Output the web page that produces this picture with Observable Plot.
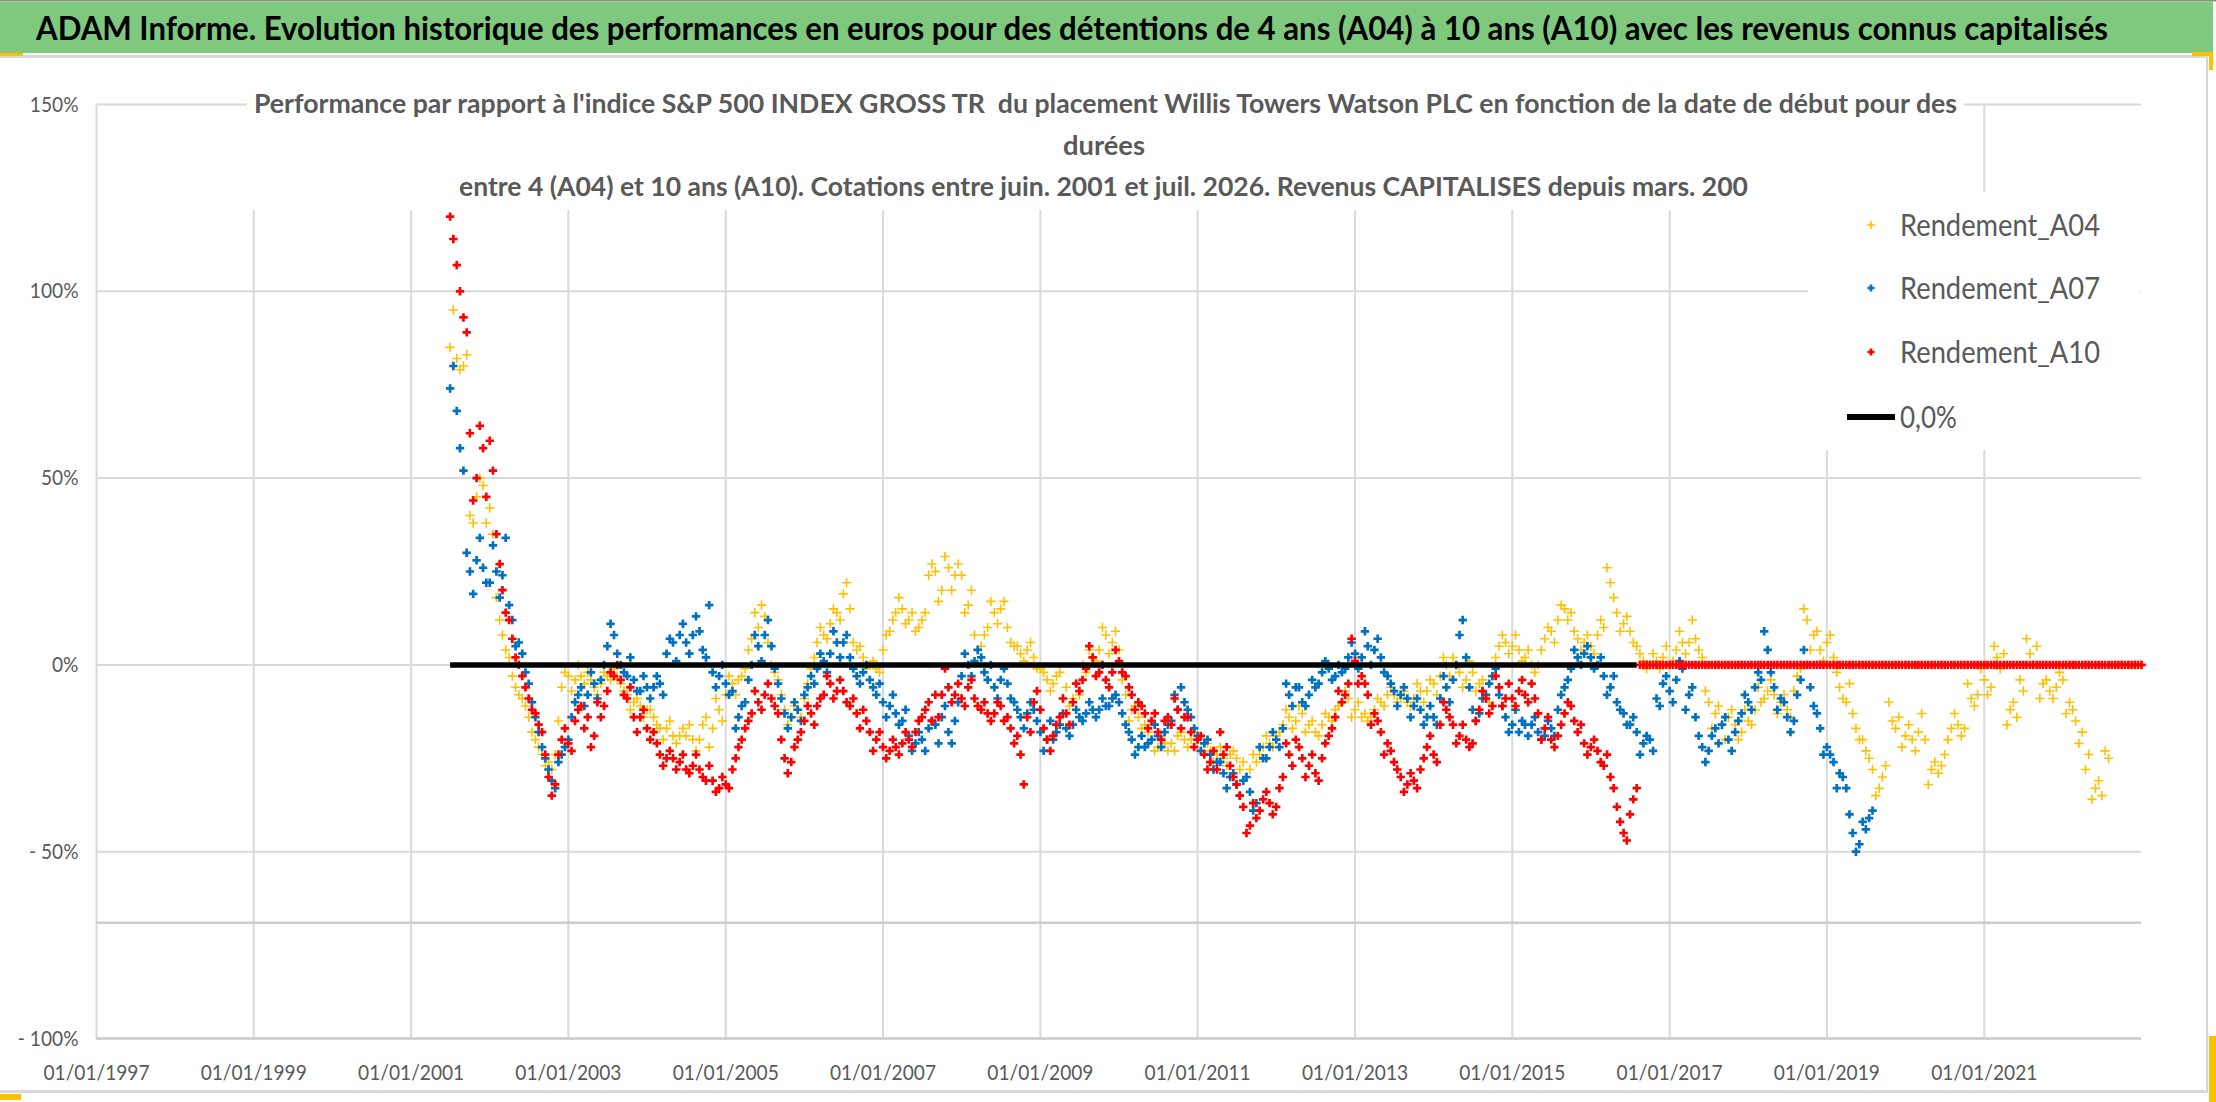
<!DOCTYPE html>
<html><head><meta charset="utf-8">
<script src="https://cdn.jsdelivr.net/npm/d3@7"></script>
<script src="https://cdn.jsdelivr.net/npm/@observablehq/plot@0.6"></script>
<style>
html,body{margin:0;padding:0;background:#fff;}
#wrap{position:relative;width:2216px;height:1102px;overflow:hidden;background:#fff;}
#wrap svg{position:absolute;left:0;top:0;}
</style></head><body><div id="wrap"></div>
<script>
// ---------- DATA ----------
const titleText = "ADAM Informe. Evolution historique des performances en euros pour des détentions de 4 ans (A04) à 10 ans (A10) avec les revenus connus capitalisés";
const subtitleLines = [
  "Performance par rapport à l'indice S&P 500 INDEX GROSS TR  du placement Willis Towers Watson PLC en fonction de la date de début pour des",
  "durées",
  "entre 4 (A04) et 10 ans (A10). Cotations entre juin. 2001 et juil. 2026. Revenus CAPITALISES depuis mars. 200"
];
const seriesNames = ["Rendement_A04", "Rendement_A07", "Rendement_A10"];
const zeroName = "0,0%";
const seriesColors = ["#FFC000", "#0070C0", "#FF0000"];

// readings (in %) on the 1st of each month, first value = 1 July 2001
const firstMonth = [2001, 6];
const a04 = [85,82,80,40,45,48,42,18,8,2,-6,-9,-14,-20,-24,-26,-24,-6,-3,-4,-3,-2,-6,-5,-3,-1,-5,-8,-10,-11,-12,-14,-17,-17,-19,-19,-19,-20,
  -20,-14,-17,-12,-8,-5,-4,-1,7,10,13,0,-4,-12,-14,-12,-9,-1,6,8,11,14,19,15,4,2,0,-1,4,9,14,15,12,9,12,24,25,
  20,26,24,24,16,8,5,10,14,15,10,5,3,4,2,-1,-4,-5,-2,-6,-9,-8,-2,2,4,8,6,4,-8,-12,-14,-16,-20,-22,-21,-21,
  -19,-20,-20,-20,-21,-23,-24,-25,-24,-25,-26,-28,-26,-22,-21,-19,-16,-14,-15,-13,-16,-18,-16,-14,-12,-10,-9,-12,-14,-15,-12,-10,-8,-8,-9,-10,-9,-7,
  -7,-5,-3,0,2,-2,-4,-2,-5,-8,-3,5,6,5,4,2,0,0,7,9,12,15,14,7,6,5,8,10,22,14,11,9,5,1,0,1,
  2,0,4,6,6,7,2,-10,-13,-16,-14,-16,-18,-15,-12,-10,-7,-8,-10,-12,-7,-1,12,8,4,6,2,-6,-10,-13,-20,-23,-28,-33,
  -27,-15,-14,
  -19,-20,-18,-20,-28,-29,-24,-17,-16,-17,-9,-8,-4,-6,2,3,-12,-14,-7,3,5,-5,-7,-6,-4,-10,-15,-18,-24,-33,-35,-25,
  0,0,0,0,0];
const a07 = [74,68,52,25,28,26,22,25,24,16,5,3,-5,-14,-22,-28,-33,-24,-20,-10,-6,-8,-5,-4,5,8,0,-3,-4,-7,-6,-6,-5,3,6,8,6,
  8,9,2,-2,-3,-5,-7,-14,-10,0,5,8,5,-5,-13,-14,-12,-8,-3,-1,1,3,6,6,2,-3,-2,-4,-8,-10,-11,-13,-15,-19,-21,-20,-17,-16,
  -14,-18,-15,-3,0,1,2,-4,-6,-4,-5,-10,-14,-13,-12,-18,-20,-20,-16,-17,-16,-14,-13,-12,-12,-11,-9,-10,-16,-20,-22,-22,-20,-19,-18,-15,
  -12,-10,-14,-19,-21,-24,-26,-29,-30,-32,-31,-34,-37,-25,-22,-20,-17,-8,-6,-10,-8,-6,-2,-1,-3,-2,2,3,2,5,4,2,-3,-7,-8,-9,-11,-12,
  -14,-14,-9,-6,-4,8,2,-12,-13,-8,-3,-8,-14,-16,-18,-16,-16,-18,-19,-17,-12,-6,-1,2,3,2,0,-3,-6,-10,-13,-16,-18,
  -21,-20,-9,-5,-7,-4,-1,-8,-14,-22,-23,-17,-16,-20,-18,-13,-10,-6,-4,4,-6,-9,-14,-15,-4,0,-11,-17,-22,-26,-29,-33,-45,-48,-44,-39];
const a10 = [120,107,93,62,50,58,60,35,20,12,2,-3,-9,-13,-18,-30,-32,-20,-21,-15,-11,-14,-19,-14,-7,-3,-4,-9,-14,-14,-17,-18,-24,-25,-25,-26,-28,-27,
  -28,-31,-31,-33,-32,-28,-22,-17,-13,-10,-8,-9,-13,-25,-26,-20,-15,-13,-11,-8,-5,-7,-7,-11,-13,-12,-18,-20,-22,-23,-22,-21,-20,-18,-14,-10,-8,
  -8,-6,-8,-9,-6,-9,-12,-13,-13,-11,-14,-21,-24,-14,-10,-12,-20,-19,-14,-13,-10,-7,-1,2,-2,-4,-2,1,-3,-8,-10,-13,-15,-18,-15,-16,
  -12,-14,-18,-20,-24,-26,-28,-24,-27,-32,-38,-43,-41,-36,-37,-38,-30,-24,-20,-25,-27,-29,-25,-19,-14,-10,-5,1,-3,-8,-13,-18,-21,-26,-30,-32,-31,-28,
  -22,-24,-16,-12,-16,-19,-20,-21,-12,-9,-11,-6,-9,-9,-7,-8,-5,-13,-17,-20,-19,-13,-11,-18,-21,-22,-23,-27,-30,-38,-45,-40,-33,
  0,0,0,0,0,0,0,0,0,0,0,0,0,0,0,0,0,0,0,0,0,0,0,0,0,0,0,0,0,0,0,0,0,0,0,0,0,0,0,0,
  0,0,0,0,0,0,0,0,0,0,0,0,0,0,0,0,0,0,0,0,0,0,0,0,0,0,0,0,0,0,0,0,0,0,0,0,0];
// readings (in %) on the 16th of each month, first value = 16 July 2001
const a04Mid = [95,79,83,38,50,38,35,12,4,-3,-8,-11,-18,-22,-27,-28,-15,-2,-7,0,-5,-4,-8,-2,-4,-3,-7,-12,-9,-14,-12,-16,-20,-15,-21,-17,-16,
  -23,-16,-22,-9,-15,-3,-8,-3,4,14,16,6,-2,-8,-16,-11,-14,-5,2,10,7,15,12,22,6,5,-1,1,-2,8,12,18,11,14,10,14,27,
  17,29,20,27,14,20,4,8,17,11,17,6,5,1,6,-1,-2,-7,-3,-9,-11,-5,0,4,1,10,3,9,-4,-15,-11,-17,-18,-23,-19,-23,
  -23,-18,-22,-18,-23,-21,-26,-22,-27,-23,-28,-30,-24,-24,-19,-22,-18,-12,-17,-11,-18,-15,-19,-13,-15,-11,-7,-14,-10,-13,-14,-9,-11,-6,-10,-7,-11,-5,
  -10,-4,-8,2,-3,0,-6,1,-7,-4,-10,2,8,3,8,1,4,-2,4,10,6,16,12,9,4,8,3,12,26,18,9,13,6,3,-1,3,
  -1,5,1,9,3,12,4,-7,-17,-11,-20,-12,-20,-12,-16,-6,-9,-4,-13,-8,-14,-3,15,4,9,1,8,-2,-9,-5,-17,-20,-25,-35,-30,
  -10,-17,-22,-16,-23,-13,-32,-26,-27,-20,-13,-19,-5,-11,-1,-8,5,-1,-16,-10,-4,7,0,-9,-4,-9,-2,-13,-12,-21,-28,-36,-31,-23];
const a07Mid = [80,58,30,19,34,22,32,18,34,12,6,-2,-10,-18,-25,-31,-26,-22,-14,-8,-11,-2,-9,0,11,3,-2,2,-7,-3,-9,-3,-8,7,1,11,3,
  13,4,16,-6,0,-8,-17,-11,-4,8,1,12,-1,-9,-17,-10,-15,-6,-5,3,-2,9,2,8,-1,-5,0,-6,-5,-14,-8,-16,-12,-23,-18,-23,-15,
  -21,-11,-21,-10,3,-3,4,-2,0,-9,-1,-9,-12,-17,-10,-15,-23,-15,-18,-13,-19,-12,-15,-10,-14,-9,-11,-8,-13,-18,-24,-19,-21,-16,-22,-16,
  -8,-6,-12,-17,-23,-20,-28,-26,-33,-29,-35,-30,-39,-22,-25,-18,-22,-5,-11,-6,-11,-4,-5,1,-4,0,-1,6,-1,9,0,7,-2,-5,-11,-6,-14,-9,
  -16,-11,-16,-3,-10,0,12,-6,-15,-9,-5,-1,-11,-18,-12,-15,-19,-14,-20,-15,-19,-8,-4,4,0,5,-1,2,-8,-3,-12,-16,-14,-24,-19,-23,
  -11,-3,-10,1,-12,-6,-19,-26,-19,-21,-14,-23,-15,-8,-12,-2,9,-2,-12,-10,-18,-8,4,-6,-13,-24,-24,-33,-30,-40,-50,-42,-41];
const a10Mid = [114,100,89,44,64,45,52,27,14,7,0,-6,-12,-16,-24,-35,-24,-17,-23,-12,-17,-22,-10,-11,-2,0,-8,-6,-18,-12,-20,-21,-27,-23,-28,-24,-29,
  -24,-30,-27,-34,-30,-33,-25,-20,-15,-7,-12,-5,-11,-20,-29,-22,-18,-11,-16,-9,-3,-9,-4,-10,-9,-17,-15,-23,-18,-25,-20,-24,-18,-22,-15,-12,-15,
  -14,-1,-10,-5,-11,-4,-11,-10,-15,-10,-15,-17,-19,-32,-18,-7,-17,-23,-16,-9,-16,-5,-4,5,-3,0,-6,4,-2,-6,-12,-11,-17,-13,-20,-14,
  -9,-17,-14,-22,-19,-28,-23,-18,-22,-30,-35,-45,-37,-39,-34,-40,-33,-21,-27,-22,-30,-24,-31,-21,-17,-7,-8,7,-5,-5,-16,-15,-24,-23,-28,-34,-29,-33,
  -25,-19,-26,-10,-14,-21,-16,-22,-15,-7,-13,-3,-11,-5,-11,-4,-10,-9,-20,-14,-22,-16,-10,-15,-16,-24,-20,-26,-24,-33,-42,-47,-36,
  0,0,0,0,0,0,0,0,0,0,0,0,0,0,0,0,0,0,0,0,0,0,0,0,0,0,0,0,0,0,0,0,0,0,0,0,0,0,0,0,
  0,0,0,0,0,0,0,0,0,0,0,0,0,0,0,0,0,0,0,0,0,0,0,0,0,0,0,0,0,0,0,0,0,0,0,0,0];
const zeroLineMonths = [0, 181];           // 0,0% line: from first to last A10 reading
const xTickYears = [1997,1999,2001,2003,2005,2007,2009,2011,2013,2015,2017,2019,2021];
const xDomainYears = [1997, 2023];
const yTicks = [150, 100, 50, 0, -50, -100];
const yDomain = [-100, 150];
const extraRuleValue = -69;

// ---------- BUILD ----------
const monthDate = (k, day) => new Date(Date.UTC(firstMonth[0], firstMonth[1] + k, day));
const rows = (vals, mid) => vals.map((v, k) => ({date: monthDate(k, 1), value: v}))
  .concat(mid.map((v, k) => ({date: monthDate(k, 16), value: v})));
const cross = {
  draw(ctx, size) {
    const r = Math.sqrt(size / Math.PI);
    ctx.moveTo(-r, 0); ctx.lineTo(r, 0);
    ctx.moveTo(0, -r); ctx.lineTo(0, r);
  }
};
const markerR = [4.7, 4.2, 4.2];
const markerW = [1.6, 2.7, 2.7];
const xTicks = xTickYears.map(y => new Date(Date.UTC(y, 0, 1)));
const fmtY = d => d < 0 ? `- ${-d}%` : `${d}%`;
const zeroRows = zeroLineMonths.map(k => ({date: monthDate(k, 1), value: 0}));

const chart = Plot.plot({
  width: 2216, height: 1102,
  marginLeft: 96, marginRight: 75, marginTop: 104, marginBottom: 64,
  x: {type: "utc", domain: xDomainYears.map(y => new Date(Date.UTC(y, 0, 1)))},
  y: {domain: yDomain},
  style: {background: "transparent", fontFamily: "Lato, 'Open Sans', sans-serif", color: "#595959", overflow: "visible"},
  marks: [
    Plot.ruleX(xTicks, {stroke: "#d9d9d9", strokeWidth: 2}),
    Plot.ruleY(yTicks, {stroke: "#d9d9d9", strokeWidth: 2}),
    Plot.ruleY([extraRuleValue, yDomain[0]], {stroke: "#cccccc", strokeWidth: 2.5}),
    ...[[a04, a04Mid], [a07, a07Mid], [a10, a10Mid]].map(([s, m], i) => Plot.dot(rows(s, m), {
      x: "date", y: "value", symbol: cross, r: markerR[i],
      stroke: seriesColors[i], strokeWidth: markerW[i], fill: "none"
    })),
    Plot.line(zeroRows, {x: "date", y: "value", stroke: "#000", strokeWidth: 5.5, strokeLinecap: "butt"}),
    Plot.axisX({ticks: xTicks, tickFormat: d3.utcFormat("%d/%m/%Y"), tickSize: 0, tickPadding: 26, fontSize: 22, color: "#595959", label: null}),
    Plot.axisY({ticks: yTicks, tickFormat: fmtY, tickSize: 0, tickPadding: 18, fontSize: 22, color: "#595959", label: null})
  ]
});
const wrap = document.getElementById("wrap");
wrap.appendChild(chart);
chart.querySelectorAll('g[aria-label$="tick label"] text').forEach(t => {
  const w = t.getComputedTextLength();
  t.setAttribute("textLength", (w * 0.87).toFixed(1));
  t.setAttribute("lengthAdjust", "spacingAndGlyphs");
});

// ---------- OVERLAY: frame, title, subtitle, legend ----------
const ov = d3.select(wrap).append("svg").attr("width", 2216).attr("height", 1102)
  .style("font-family", "Lato, 'Open Sans', sans-serif");
const rect = (x, y, w, h, c) => ov.append("rect").attr("x", x).attr("y", y).attr("width", w).attr("height", h).attr("fill", c);
rect(0, 0, 2216, 1.5, "#8a8a8a");
rect(0, 1.5, 2213, 51.5, "#7ec97e");
rect(0, 55, 2208, 3, "#d9d9d9");
rect(2206, 58, 2, 1032, "#d4d4d4");
rect(0, 1090, 2208, 3, "#d9d9d9");
rect(0, 53, 23, 3, "#ffc000");
rect(2192, 52, 21, 4, "#ffc000");
rect(2209, 56, 4, 14, "#ffc000");
rect(2209, 1036, 7, 66, "#ffc000");
rect(0, 1094, 21, 6, "#ffc000");
// subtitle and legend boxes
rect(247, 90, 1717, 120, "#ffffff");
rect(1808, 192, 332, 258, "#ffffff");

const txt = (s, x, y, len, size, weight, fill) => ov.append("text")
  .attr("x", x).attr("y", y).attr("textLength", len).attr("lengthAdjust", "spacingAndGlyphs")
  .style("font-size", size + "px").style("font-weight", weight).style("white-space", "pre")
  .attr("fill", fill).text(s);

txt(titleText, 36, 40, 2072, 32, 700, "#000");
txt(subtitleLines[0], 254, 113, 1703, 26, 700, "#595959");
txt(subtitleLines[1], 1063, 155, 82, 26, 700, "#595959");
txt(subtitleLines[2], 459, 196, 1289, 26, 700, "#595959");

const legY = [225, 288, 352];
seriesNames.forEach((n, i) => {
  ov.append("path").attr("d", d3.symbol(cross, Math.PI * markerR[i] * markerR[i] * 0.7)())
    .attr("transform", `translate(1871,${legY[i]})`)
    .attr("fill", "none").attr("stroke", seriesColors[i]).attr("stroke-width", markerW[i]);
  txt(n, 1900, legY[i] + 10.5, 200, 30, 400, "#595959");
});
ov.append("line").attr("x1", 1847).attr("x2", 1895).attr("y1", 417).attr("y2", 417)
  .attr("stroke", "#000").attr("stroke-width", 6);
txt(zeroName, 1900, 427.5, 57, 30, 400, "#595959");
</script></body></html>
